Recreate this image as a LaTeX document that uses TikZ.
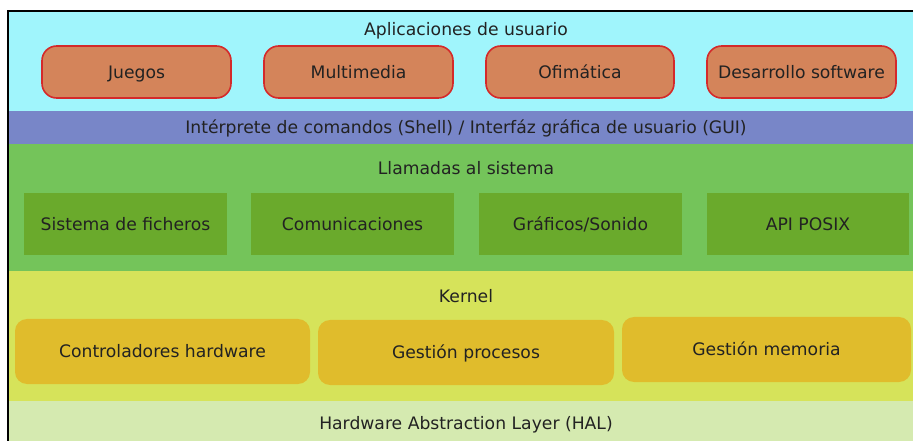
\documentclass[tikz,border=0pt]{standalone}
\usepackage{fontspec}
\setmainfont{DejaVu Sans}
\definecolor{cyanband}{HTML}{A0F5FC}
\definecolor{shellband}{HTML}{7886C8}
\definecolor{greenband}{HTML}{74C45A}
\definecolor{greenbox}{HTML}{6AAA2C}
\definecolor{yellowband}{HTML}{D6E35A}
\definecolor{kernbox}{HTML}{E0BC2C}
\definecolor{halband}{HTML}{D5EAB0}
\definecolor{appfill}{HTML}{D4845A}
\definecolor{appline}{HTML}{D42A2A}
\definecolor{txt}{HTML}{222222}
\tikzset{
  px/.style={x=0.75pt,y=-0.75pt},
  lbl/.style={text=txt,font=\fontsize{12.9pt}{15pt}\selectfont,inner sep=0pt,text height=9.4pt,text depth=0pt},
  appbox/.style={lbl,rounded corners=11pt,fill=appfill,draw=appline,line width=1.2pt,minimum height=52*0.75pt},
  sysbox/.style={lbl,fill=greenbox,minimum height=62*0.75pt},
  kbox/.style={lbl,rounded corners=9pt,fill=kernbox,minimum height=65*0.75pt},
}
\begin{document}
\begin{tikzpicture}[px]
\useasboundingbox (0,0) rectangle (913,441);
\fill[white] (0,0) rectangle (913,441);
% bands
\fill[cyanband] (8,11) rectangle (913,111);
\fill[shellband] (8,111) rectangle (913,144);
\fill[greenband] (8,144) rectangle (913,271);
\fill[yellowband] (8,271) rectangle (913,401);
\fill[halband] (8,401) rectangle (913,441);
% frame
\draw[line width=1.6pt,black] (8,441) -- (8,11) -- (913,11);
% band titles
\node[lbl] (apps) at (466,29) {Aplicaciones de usuario};
\node[lbl] (shell) at (466,127) {Intérprete de comandos (Shell) / Interfáz gráfica de usuario (GUI)};
\node[lbl] (sys) at (466,168) {Llamadas al sistema};
\node[lbl] (kernel) at (466,296) {Kernel};
\node[lbl] (hal) at (466,423) {Hardware Abstraction Layer (HAL)};
% applications
\node[appbox,minimum width=189*0.75pt] (juegos) at (136.5,72) {Juegos};
\node[appbox,minimum width=189*0.75pt] (multi) at (358.5,72) {Multimedia};
\node[appbox,minimum width=188*0.75pt] (ofi) at (580,72) {Ofimática};
\node[appbox,minimum width=189*0.75pt] (desa) at (801.5,72) {Desarrollo software};
% system calls
\node[sysbox,minimum width=203*0.75pt] (fich) at (125.5,224) {Sistema de ficheros};
\node[sysbox,minimum width=203*0.75pt] (comu) at (352.5,224) {Comunicaciones};
\node[sysbox,minimum width=203*0.75pt] (graf) at (580.5,224) {Gráficos/Sonido};
\node[sysbox,minimum width=202*0.75pt] (posix) at (808,224) {API POSIX};
% kernel
\node[kbox,minimum width=295*0.75pt] (ctrl) at (162.5,351.5) {Controladores hardware};
\node[kbox,minimum width=296*0.75pt] (proc) at (466,352.5) {Gestión procesos};
\node[kbox,minimum width=289*0.75pt] (mem) at (766.5,349.5) {Gestión memoria};
\end{tikzpicture}
\end{document}
